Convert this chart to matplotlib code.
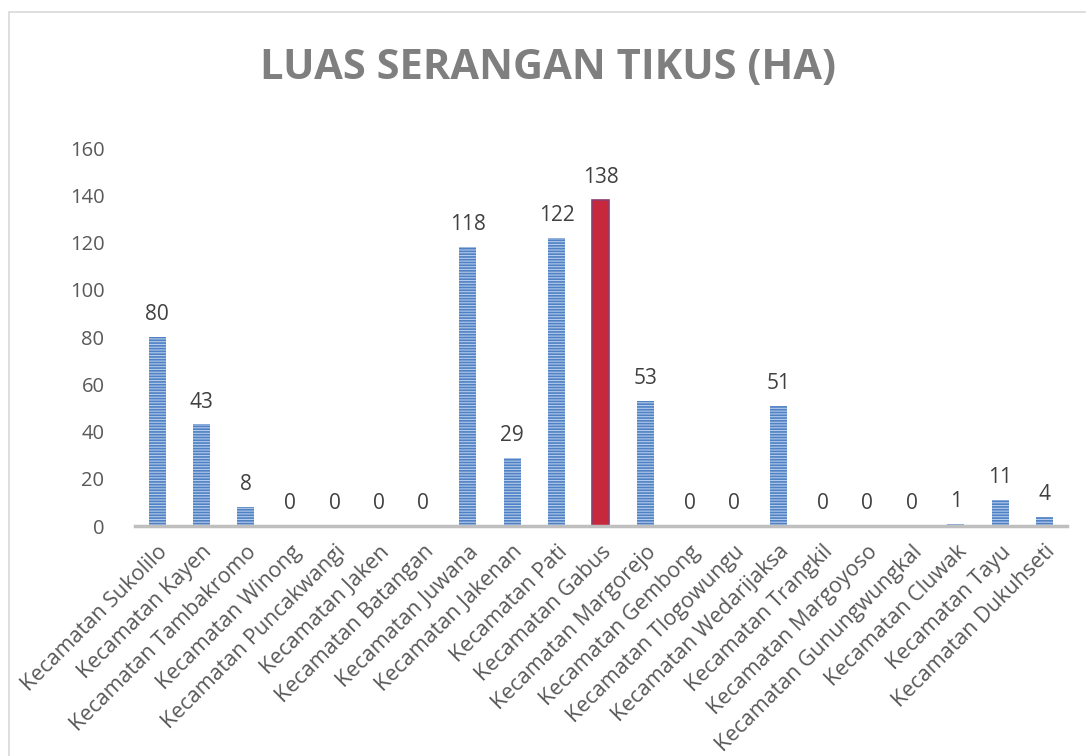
import matplotlib.pyplot as plt
from matplotlib.patches import Rectangle

plt.rcParams['font.family'] = ['Open Sans', 'DejaVu Sans']
plt.rcParams['hatch.linewidth'] = 1.2

kecamatan = ['Sukolilo', 'Kayen', 'Tambakromo', 'Winong', 'Puncakwangi', 'Jaken',
             'Batangan', 'Juwana', 'Jakenan', 'Pati', 'Gabus', 'Margorejo',
             'Gembong', 'Tlogowungu', 'Wedarijaksa', 'Trangkil', 'Margoyoso',
             'Gunungwungkal', 'Cluwak', 'Tayu', 'Dukuhseti']
luas = [80, 43, 8, 0, 0, 0, 0, 118, 29, 122, 138, 53, 0, 0, 51, 0, 0, 0, 1, 11, 4]
highlight = 'Gabus'

labels = ['Kecamatan ' + k for k in kecamatan]

fig = plt.figure(figsize=(10.86, 7.56), dpi=100)
fig.patches.append(Rectangle((9 / 1086, -0.01), 1.01, 1 - 12 / 756 + 0.01,
                             transform=fig.transFigure, fill=False,
                             edgecolor='#d9d9d9', linewidth=1.2))
ax = fig.add_axes([0.1243, 0.3042, 0.858, 0.5])

x = range(len(luas))
for i, (k, v) in enumerate(zip(kecamatan, luas)):
    if k == highlight:
        ax.bar(i, v, width=0.38, color='#c8283c', edgecolor='#8b3d6e', linewidth=1.2, zorder=3)
    else:
        ax.bar(i, v, width=0.38, color='#b4cbeb', edgecolor='#4f81c4', hatch='------',
               linewidth=0, zorder=3)
    ax.text(i, v + 5, str(v), ha='center', va='bottom', fontsize=15, color='#404040')

ax.set_xlim(-0.5, len(luas) - 0.5)
ax.set_ylim(0, 160)
ax.set_yticks(range(0, 161, 20))
ax.set_xticks(list(x))
ax.set_xticklabels(labels, rotation=45, ha='right', rotation_mode='anchor',
                   fontsize=15.5, color='#595959')
ax.tick_params(axis='y', length=0, pad=22, labelsize=14.5, labelcolor='#595959')
ax.tick_params(axis='x', length=0, pad=11)
for s in ['top', 'right', 'left']:
    ax.spines[s].set_visible(False)
ax.spines['bottom'].set_color('#bfbfbf')
ax.spines['bottom'].set_linewidth(2.5)
ax.spines['bottom'].set_zorder(4)

fig.text(0.505, 0.91, 'LUAS SERANGAN TIKUS (HA)', ha='center', va='center',
         fontsize=30, fontweight='bold', color='#7f7f7f')

fig.savefig('out.png', dpi=100)
